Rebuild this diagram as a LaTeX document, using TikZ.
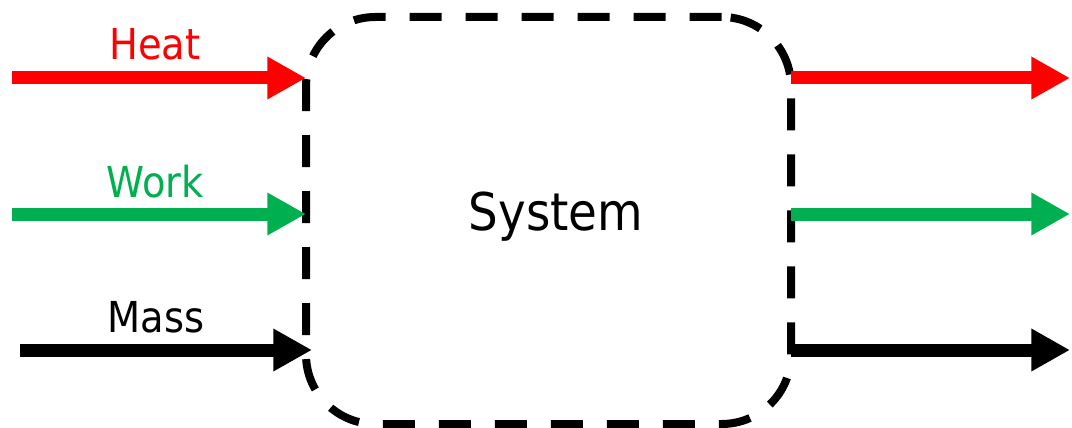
\documentclass[tikz,border=0pt]{standalone}
\usepackage{fontspec}
\setmainfont{DejaVu Sans Condensed}
\usetikzlibrary{arrows.meta,positioning}
\definecolor{heatred}{RGB}{255,0,0}
\definecolor{workgreen}{RGB}{0,176,80}

\begin{document}
\begin{tikzpicture}[x=0.75pt, y=-0.75pt,
    bdy/.style={draw, line width=6pt, dash pattern=on 24pt off 18pt, rounded corners=52pt,
        minimum width=363.75pt, minimum height=305.25pt, outer sep=0pt, inner sep=0pt},
    flow/.style={line width=9.75pt, -{Triangle[length=29pt, width=30pt]}},
    lbl/.style={font=\fontsize{32}{36}\selectfont, inner sep=0pt, anchor=base},
    big/.style={font=\fontsize{39}{44}\selectfont, inner sep=0pt}
]
    % frame
    \useasboundingbox (0,0) rectangle (1072,428);

    % the system boundary
    \node[bdy] (sys) at (548.5,220.5) {};
    \node[big] (systxt) at (556,217) {System};

    % start points of the incoming flows
    \coordinate (heatin) at (12,78);
    \coordinate (workin) at (12,214);
    \coordinate (massin) at (20,350);

    % end points of the outgoing flows
    \coordinate (heatout) at (1070,78);
    \coordinate (workout) at (1070,214);
    \coordinate (massout) at (1070,350);

    % labels
    \node[lbl, text=heatred] (heat) at (155,60) {Heat};
    \node[lbl, text=workgreen] (work) at (155,197) {Work};
    \node[lbl] (mass) at (156,332) {Mass};

    % in
    \draw[flow, heatred] (heatin) -- (heatin -| sys.west);
    \draw[flow, workgreen] (workin) -- (workin -| sys.west);
    \draw[flow, black, shorten >=-4.5pt] (massin) -- (massin -| sys.west);

    % out
    \draw[flow, heatred] (heatout -| sys.east) -- (heatout);
    \draw[flow, workgreen] (workout -| sys.east) -- (workout);
    \draw[flow, black] (massout -| sys.east) -- (massout);
\end{tikzpicture}
\end{document}
